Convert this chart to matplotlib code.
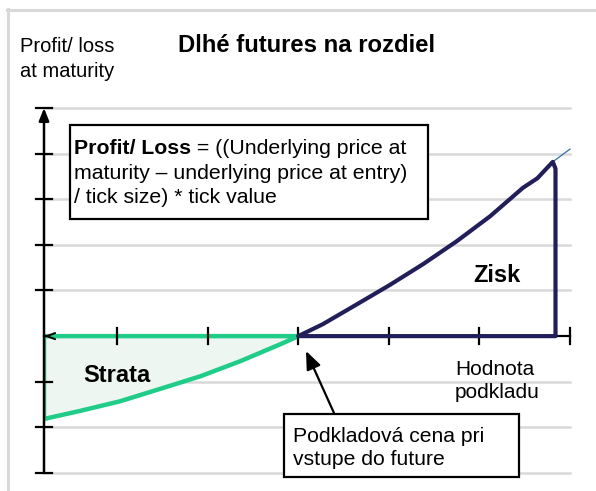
import matplotlib
matplotlib.use("Agg")
import matplotlib.pyplot as plt
from matplotlib.patches import Rectangle, Polygon

plt.rcParams['font.family'] = ['Liberation Sans', 'DejaVu Sans']

# ---- data (chart units) ----
x_start = 0.194          # where the vertical axis crosses
x_entry = 3.0            # underlying price at entry
x_end_axis = 6.0
y_min, y_max = -3, 5
grid_levels = [-3, -2, -1, 1, 2, 3, 4, 5]
x_ticks = [1, 2, 3, 4, 5, 6]

loss_x = [3.0, 2.88, 2.80, 2.36, 1.92, 1.47, 1.03, 0.59, 0.23, 0.194]
loss_y = [0.0, -0.11, -0.18, -0.55, -0.88, -1.16, -1.43, -1.64, -1.80, -1.82]

profit_x = [3.0, 3.27, 3.65, 4.01, 4.38, 4.75, 5.12, 5.48, 5.64, 5.81]
profit_y = [0.0, 0.26, 0.70, 1.12, 1.58, 2.08, 2.63, 3.25, 3.46, 3.82]
profit_right = 5.84
ext_x = [5.81, 6.0]
ext_y = [3.82, 4.10]

title = "Dlhé futures na rozdiel"
ylabel_lines = ["Profit/ loss", "at maturity"]
xlabel_lines = ["Hodnota", "podkladu"]
formula_bold = "Profit/ Loss"
formula_rest = [" = ((Underlying price at", "maturity – underlying price at entry)", "/ tick size) * tick value"]
callout_lines = ["Podkladová cena pri", "vstupe do future"]

W, H = 596, 491
fig = plt.figure(figsize=(W / 100, H / 100), dpi=100)

# main axes: pixel extents 44..570 (x), 108..473 (y)
L, R, T, B = 44, 570, 108, 473
ax = fig.add_axes([L / W, 1 - B / H, (R - L) / W, (B - T) / H])
ax.set_xlim(x_start, x_end_axis)
ax.set_ylim(y_min, y_max)
ax.axis('off')

grid_c = '#d9d9d9'
for g in grid_levels:
    ax.plot([x_start, x_end_axis], [g, g], color=grid_c, lw=1.8, zorder=1, clip_on=False)

# ticks on y axis
tick_dx = 8 / 90.6
tick_dy = 8 / 45.6
for g in grid_levels:
    ax.plot([x_start - tick_dx, x_start + tick_dx], [g, g], color='black', lw=1.6, zorder=5, clip_on=False)
# ticks on x axis
for t in x_ticks:
    ax.plot([t, t], [-tick_dy, tick_dy], color='black', lw=1.6, zorder=5, clip_on=False)

# y axis with arrow head
ax.annotate('', xy=(x_start, y_max), xytext=(x_start, y_min),
            arrowprops=dict(arrowstyle='-|>,head_length=0.75,head_width=0.3', lw=1.8,
                            color='black', shrinkA=0, shrinkB=0), zorder=6, annotation_clip=False)
# x axis line
ax.plot([x_start, x_end_axis], [0, 0], color='black', lw=1.6, zorder=2, clip_on=False)
# open arrow head at the left end of x axis
ax.annotate('', xy=(x_start, 0), xytext=(x_start + 0.02, 0),
            arrowprops=dict(arrowstyle='->,head_length=0.6,head_width=0.22', lw=1.4,
                            color='black', shrinkA=0, shrinkB=0), zorder=7, annotation_clip=False)

# loss area
loss_poly_x = [x_start, x_entry] + loss_x[1:] + [x_start]
loss_poly_y = [0, 0] + loss_y[1:] + [0]
ax.add_patch(Polygon(list(zip(loss_poly_x, loss_poly_y)), closed=True,
                     facecolor='#eef6f2', edgecolor='#1fcc88', lw=3.2, joinstyle='round', zorder=4))

# profit area
prof_poly_x = profit_x + [profit_right, profit_right, x_entry]
prof_poly_y = profit_y + [profit_y[-1] - 0.15, 0, 0]
ax.add_patch(Polygon(list(zip(prof_poly_x, prof_poly_y)), closed=True,
                     facecolor='none', edgecolor='#221e5a', lw=3.0, joinstyle='round', zorder=5))
ax.plot(ext_x, ext_y, color='#2f6fb0', lw=0.9, zorder=4, clip_on=False)

# overlay axes in pixel coordinates for annotations
ov = fig.add_axes([0, 0, 1, 1], zorder=10)
ov.set_xlim(0, W)
ov.set_ylim(H, 0)
ov.axis('off')
ov.patch.set_alpha(0)

# outer light border (top and left)
ov.plot([7, W], [9.5, 9.5], color=grid_c, lw=2.2)
ov.plot([7.5, 7.5], [9, H], color=grid_c, lw=2.2)

ov.text(20, 52, ylabel_lines[0], fontsize=14.5, va='baseline', ha='left')
ov.text(20, 77, ylabel_lines[1], fontsize=14.5, va='baseline', ha='left')
ov.text(178, 52, title, fontsize=17.2, fontweight='bold', va='baseline', ha='left')

# formula box
ov.add_patch(Rectangle((70, 125), 358, 94, facecolor='white', edgecolor='black', lw=1.6, zorder=11))
fs = 15.3
t1 = ov.text(74, 154, formula_bold, fontsize=fs, fontweight='bold', va='baseline', ha='left', zorder=12)
fig.canvas.draw()
bb = t1.get_window_extent()
x_after = ov.transData.inverted().transform((bb.x1, bb.y0))[0]
ov.text(x_after, 154, formula_rest[0], fontsize=fs, va='baseline', ha='left', zorder=12)
ov.text(74, 179, formula_rest[1], fontsize=fs, va='baseline', ha='left', zorder=12)
ov.text(74, 203, formula_rest[2], fontsize=fs, va='baseline', ha='left', zorder=12)

ov.text(473, 282, "Zisk", fontsize=17, fontweight='bold', va='baseline', ha='left')
ov.text(83, 382, "Strata", fontsize=17, fontweight='bold', va='baseline', ha='left', zorder=12)

ov.text(455, 375, xlabel_lines[0], fontsize=15, va='baseline', ha='left')
ov.text(455, 398, xlabel_lines[1], fontsize=15, va='baseline', ha='left')

# callout
ov.add_patch(Rectangle((284, 414), 235, 63, facecolor='white', edgecolor='black', lw=1.6, zorder=11))
ov.text(293, 442, callout_lines[0], fontsize=15.2, va='baseline', ha='left', zorder=12)
ov.text(293, 465, callout_lines[1], fontsize=15.2, va='baseline', ha='left', zorder=12)
ov.annotate('', xy=(306, 351), xytext=(334, 413),
            arrowprops=dict(arrowstyle='-|>,head_length=1.1,head_width=0.45', lw=1.6,
                            color='black', shrinkA=0, shrinkB=0), zorder=12)

fig.savefig('out.png', dpi=100)
